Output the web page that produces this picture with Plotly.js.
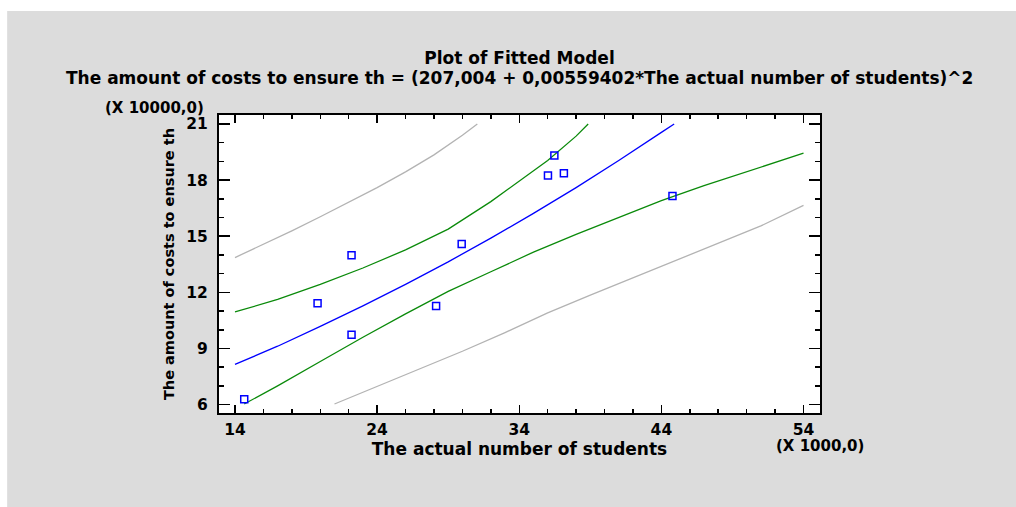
<!DOCTYPE html>
<html>
<head>
<meta charset="utf-8">
<script src="https://cdn.plot.ly/plotly-3.0.1.min.js"></script>
<style>
  html, body { margin: 0; padding: 0; background: #ffffff; }
  #chart { width: 1016px; height: 507px; }
</style>
</head>
<body>
<div id="chart"></div>
<script>
// Observed data (x in thousands, y in ten-thousands)
const obsX = [14.65, 19.81, 22.2, 22.2, 28.15, 29.95, 36.02, 36.47, 37.14, 44.78];
const obsY = [6.29, 11.42, 13.98, 9.73, 11.27, 14.59, 18.24, 19.32, 18.36, 17.15];

// Fitted line
const fitX = [14, 17, 20, 23, 26, 29, 32, 35, 38, 41, 44, 44.9];
const fitY = [8.15, 9.12, 10.18, 11.28, 12.43, 13.63, 14.9, 16.22, 17.6, 19.05, 20.55, 21.0];

// Confidence limits for the mean (green)
const confUpX = [14, 17, 20, 23, 26, 29, 32, 34, 36, 38, 38.85];
const confUpY = [10.95, 11.62, 12.42, 13.3, 14.27, 15.38, 16.85, 17.97, 19.05, 20.35, 21.0];
const confLowX = [14.65, 17, 20, 23, 26, 29, 32, 35, 38, 41, 44, 47, 50, 54];
const confLowY = [6.03, 7.0, 8.3, 9.6, 10.85, 12.05, 13.1, 14.15, 15.1, 16.0, 16.9, 17.7, 18.45, 19.44];

// Prediction limits (gray)
const predUpX = [14, 16, 18, 20, 22, 24, 26, 28, 30, 31.05];
const predUpY = [13.86, 14.57, 15.29, 16.04, 16.8, 17.6, 18.44, 19.35, 20.4, 21.0];
const predLowX = [21.0, 24, 27, 30, 33, 36, 39, 42, 45, 48, 51, 54];
const predLowY = [6.03, 6.97, 7.93, 8.85, 9.85, 10.9, 11.85, 12.78, 13.68, 14.6, 15.55, 16.65];

const xTicks = [14, 24, 34, 44, 54];
const yTicks = [6, 9, 12, 15, 18, 21];

const titleText = 'Plot of Fitted Model';
const subtitleText = 'The amount of costs to ensure th = (207,004 + 0,00559402*The actual number of students)^2';
const xTitle = 'The actual number of students';
const yTitle = 'The amount of costs to ensure th';
const xScaleNote = '(X 1000,0)';
const yScaleNote = '(X 10000,0)';

const FONT = 'DejaVu Sans, Arial, sans-serif';
const GRAY = '#b3b3b3', GREEN = '#0a8a0a', BLUE = '#0000ff';

const traces = [
  {x: predUpX, y: predUpY, mode: 'lines', line: {color: GRAY, width: 1.3}, hoverinfo: 'skip'},
  {x: predLowX, y: predLowY, mode: 'lines', line: {color: GRAY, width: 1.3}, hoverinfo: 'skip'},
  {x: confUpX, y: confUpY, mode: 'lines', line: {color: GREEN, width: 1.3}, hoverinfo: 'skip'},
  {x: confLowX, y: confLowY, mode: 'lines', line: {color: GREEN, width: 1.3}, hoverinfo: 'skip'},
  {x: fitX, y: fitY, mode: 'lines', line: {color: BLUE, width: 1.3}, hoverinfo: 'skip'},
  {x: obsX, y: obsY, mode: 'markers', marker: {symbol: 'square-open', size: 7, color: BLUE, line: {width: 1.5, color: BLUE}}}
];

const axisCommon = {
  showgrid: false, zeroline: false,
  showline: true, linecolor: '#000', linewidth: 2, mirror: 'ticks',
  ticks: 'inside', tickcolor: '#000', tickwidth: 1.5,
  tickfont: {family: FONT, size: 15.5, color: '#000', weight: 'bold'}
};

const layout = {
  width: 1016, height: 507,
  margin: {l: 219, r: 196, t: 115, b: 94},
  paper_bgcolor: '#ffffff', plot_bgcolor: '#ffffff',
  showlegend: false,
  title: {text: titleText, x: 0.5, xref: 'paper', xanchor: 'center', yref: 'container', y: 0.886, yanchor: 'middle',
          font: {family: FONT, size: 17, color: '#000', weight: 'bold'}},
  xaxis: Object.assign({}, axisCommon, {
    range: [12.875, 55.16], tickvals: xTicks, ticktext: xTicks.map(String), ticklen: 8,
    ticklabelstandoff: 1,
    minor: {dtick: 2, tick0: 14, ticks: 'inside', ticklen: 4, tickcolor: '#000', tickwidth: 1.5},
    title: {text: xTitle, standoff: 4, font: {family: FONT, size: 17, color: '#000', weight: 'bold'}}
  }),
  yaxis: Object.assign({}, axisCommon, {
    range: [5.55, 21.48], tickvals: yTicks, ticktext: yTicks.map(String), ticklen: 11,
    ticklabelstandoff: 6,
    minor: {dtick: 1, tick0: 6, ticks: 'inside', ticklen: 5, tickcolor: '#000', tickwidth: 1.5},
    title: {text: yTitle, standoff: 8, font: {family: FONT, size: 14.5, color: '#000', weight: 'bold'}}
  }),
  shapes: [
    {type: 'rect', xref: 'paper', yref: 'paper', x0: -0.3525, x1: 1.4, y0: -0.4, y1: 1.349,
     fillcolor: '#dcdcdc', line: {width: 0}, layer: 'below'},
    {type: 'rect', xref: 'paper', yref: 'paper', x0: 0, x1: 1, y0: 0, y1: 1,
     fillcolor: '#ffffff', line: {width: 0}, layer: 'below'}
  ],
  annotations: [
    {text: subtitleText, xref: 'paper', yref: 'paper', x: 0.5, y: 1.124, xanchor: 'center', yanchor: 'middle',
     showarrow: false, font: {family: FONT, size: 17, color: '#000', weight: 'bold'}},
    {text: yScaleNote, xref: 'paper', yref: 'paper', x: -0.108, y: 1.022, xanchor: 'center', yanchor: 'middle',
     showarrow: false, font: {family: FONT, size: 15, color: '#000', weight: 'bold'}},
    {text: xScaleNote, xref: 'paper', yref: 'paper', x: 1.0, y: -0.11, xanchor: 'center', yanchor: 'middle',
     showarrow: false, font: {family: FONT, size: 15, color: '#000', weight: 'bold'}}
  ]
};

Plotly.newPlot('chart', traces, layout, {staticPlot: true, displayModeBar: false});
</script>
</body>
</html>
